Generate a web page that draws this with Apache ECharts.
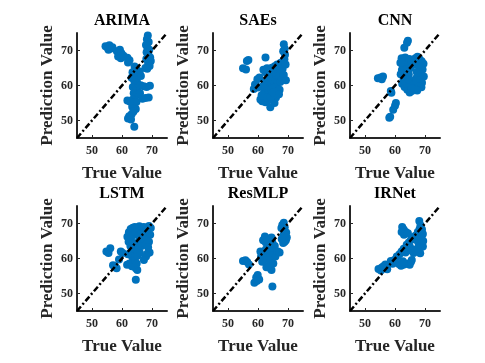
<!DOCTYPE html>
<html>
<head>
<meta charset="utf-8">
<script src="https://cdn.jsdelivr.net/npm/echarts@6/dist/echarts.min.js"></script>
<style>
  html, body { margin: 0; padding: 0; background: #fff; }
  #main { width: 485px; height: 363px; }
</style>
</head>
<body>
<div id="main"></div>
<script>
// model names, in subplot order
var models = ['ARIMA', 'SAEs', 'CNN', 'LSTM', 'ResMLP', 'IRNet'];
var axisMin = 45, axisMax = 75;
var axisTicks = [50, 60, 70];
var refLine = [[45, 45], [75, 75]];

// [true value, prediction value]
var arimaPts = [
  [54.5,71.2],[55.2,70.8],[55.8,71.5],[56.3,70.6],[55.5,70.2],[56.8,70.9],
  [58.3,69.8],[59.3,70.2],[59.8,69.2],[58.7,68.3],[59.6,67.8],[60.5,68.5],
  [61.8,67.9],[62.5,67.2],[62.0,66.6],
  [68.6,74.3],[68.3,73.2],[68.9,72.4],[68.0,71.6],[68.5,70.7],[69.1,70.2],[68.2,69.5],
  [68.8,68.8],[69.4,68.0],[68.1,67.6],[69.6,67.0],[68.7,66.4],[69.2,65.6],[67.8,65.0],[68.4,64.8],
  [64.2,65.4],[64.8,64.6],[63.5,63.8],[64.5,63.0],[65.4,62.8],[63.2,62.2],[64.0,61.5],[65.0,61.0],
  [64.3,60.2],[63.6,59.6],[65.2,59.3],[64.5,58.6],[63.9,57.8],[65.0,57.3],[64.2,56.6],[63.5,55.9],
  [64.8,55.3],[64.0,54.6],[63.4,53.9],[64.6,53.3],[63.8,52.5],[63.2,51.8],[62.4,51.2],[62.0,50.6],
  [63.0,50.3],[64.1,48.2],
  [66.2,60.1],[67.2,59.8],[68.2,59.6],[69.3,59.9],[66.0,57.8],[66.8,56.2],[67.8,56.4],[68.9,56.6],
  [65.9,64.0],[66.3,62.7],[61.8,55.7],[62.6,55.4]
];
var saesPts = [
  [56.8,67.3],[56.3,67.0],[55.0,64.9],[56.0,64.6],[62.5,68.0],[68.6,71.8],
  [61.8,64.5],[62.5,63.8],[63.0,64.9],
  [59.8,61.8],[60.5,62.3],[59.0,60.3],[58.6,59.0],[60.0,59.4],
  [60.8,56.0],[61.4,55.5],[62.5,55.2],[63.4,55.8],[64.1,53.8],[65.5,55.0],[66.0,56.6],[65.0,57.2],
  [62.0,58.0],[62.8,59.3],[63.5,57.5],[63.8,60.8],[64.5,59.0],[64.2,62.0],[65.2,61.3],[65.8,59.7],
  [66.2,58.2],[66.6,60.9],[67.0,62.5],[67.4,61.0],[67.8,63.5],[68.2,64.8],[68.5,66.2],[68.8,67.5],
  [69.0,68.8],[68.4,69.8],[68.9,70.5],[67.6,66.5],[66.8,64.2],[66.0,63.0],[65.0,63.8],[64.6,65.1],
  [63.6,62.5],[62.4,61.0],[61.5,59.8],[61.2,57.2],[63.0,56.5],[64.2,56.7],[67.2,58.8],[68.0,61.6],
  [69.2,66.0],[68.6,63.0],[66.4,66.0],[65.6,65.5],[63.2,61.5],[64.8,58.0],[69.3,61.5],[67.0,57.5]
];
var cnnPts = [
  [64.3,72.8],[64.0,72.2],[63.1,70.8],[54.3,62.1],[55.2,62.3],[56.0,62.6],[55.6,61.8],
  [58.8,57.9],[58.6,58.4],[60.3,55.0],[60.0,54.2],[59.4,53.1],[58.1,50.8],[58.4,51.1],
  [62.2,67.8],[62.8,67.2],[63.4,68.0],[62.5,66.0],[63.2,65.2],[62.3,64.4],[63.6,63.8],[64.4,66.6],
  [64.8,67.6],[64.0,64.6],[62.6,62.9],[63.5,62.0],[64.6,63.2],[65.3,65.0],[65.5,66.8],
  [66.8,67.8],[67.5,68.2],[68.2,67.5],[68.9,66.9],[69.5,66.2],[67.0,66.0],[68.0,65.3],[69.2,64.6],
  [67.3,63.8],[68.5,63.2],[69.6,62.6],[67.0,62.0],[68.2,61.5],[69.0,60.8],[66.8,60.6],[67.6,59.8],
  [68.8,59.5],[66.5,59.0],[67.4,58.6],[66.0,61.3],
  [62.4,60.5],[63.2,59.6],[64.1,58.8],[64.9,58.0],[65.6,58.4],[63.8,60.9],[65.0,60.2],[62.8,61.4],
  [64.4,61.8],[65.6,59.3],[61.8,66.5],[61.9,63.2]
];
var lstmPts = [
  [54.8,62.0],[55.5,61.6],[56.1,62.9],[57.0,58.1],[57.6,57.7],[58.2,57.2],[59.0,59.7],[59.6,62.0],
  [60.2,61.6],[64.6,53.9],[65.1,56.7],[64.6,57.2],[61.7,58.2],[62.5,58.6],[63.3,57.8],[68.5,61.4],
  [68.0,60.6],[67.3,59.6],[69.2,61.7],
  [61.8,66.2],[62.3,67.5],[62.9,68.4],[63.6,68.8],[64.3,69.0],[65.0,68.7],[65.8,69.2],[66.6,68.5],
  [67.3,69.0],[68.2,68.6],[69.0,69.3],[69.6,68.7],[62.2,64.8],[63.0,65.6],[63.8,66.8],[64.6,67.4],
  [65.5,66.5],[66.4,67.1],[67.5,67.3],[68.6,67.6],[69.4,66.8],[62.8,63.6],[63.6,64.2],[64.4,63.5],
  [65.3,64.6],[66.1,65.2],[67.0,65.8],[68.1,65.5],[69.0,64.8],[63.2,62.2],[64.0,61.4],[64.8,62.3],
  [65.6,63.0],[66.5,63.6],[67.8,64.0],[68.7,63.2],[63.4,60.5],[64.3,59.6],[65.2,60.8],[66.0,61.6],
  [64.9,58.6],[62.0,61.2]
];
var resmlpPts = [
  [68.6,70.2],[68.1,69.6],[67.8,68.7],[68.9,68.9],[69.4,67.4],[68.5,66.8],[69.6,66.0],[69.3,65.2],
  [68.4,64.4],[68.9,64.8],[67.9,65.6],
  [62.3,66.3],[62.8,65.8],[61.7,65.2],[62.6,64.6],
  [55.0,59.3],[55.8,59.5],[56.4,59.0],[57.0,58.3],
  [59.9,55.3],[59.4,54.6],[60.4,54.0],[58.8,53.1],[59.6,53.6],
  [64.8,52.0],
  [64.5,56.7],[64.0,57.3],[63.5,58.0],[62.8,57.5],
  [61.4,59.1],[61.0,60.5],[61.8,61.8],[62.6,62.6],[63.3,63.4],[64.0,64.1],[64.8,64.6],[65.6,63.6],
  [63.5,61.5],[64.2,62.2],[65.0,61.0],[65.8,60.6],[66.6,62.0],[67.2,61.7],[63.1,60.0],[64.2,59.4],
  [65.1,58.6],[63.2,65.2],[64.5,66.0],[60.8,62.0]
];
var irnetPts = [
  [54.5,57.0],[55.3,56.6],[56.2,57.8],[56.8,58.3],[55.6,57.4],[57.4,56.9],
  [58.6,59.3],[59.8,59.6],[59.2,58.5],
  [61.3,58.4],[62.0,57.9],[62.8,58.2],[63.5,58.6],[64.3,58.4],[64.9,58.2],[65.3,59.0],[65.6,59.6],[62.6,59.2],
  [60.6,60.6],[61.5,61.2],[62.2,62.0],[62.9,62.8],[63.5,61.7],[64.2,62.5],[65.0,63.3],[65.6,62.2],
  [66.2,61.6],[66.8,62.6],[63.9,63.9],[64.6,64.6],[65.3,65.3],[66.0,66.0],[66.8,66.5],[67.3,65.2],
  [67.9,64.3],[68.6,63.2],[69.3,63.4],[68.4,61.5],[67.6,62.8],
  [62.4,69.0],[62.9,68.3],[63.6,67.6],[62.2,67.6],[63.0,66.8],[64.3,67.2],
  [67.6,67.6],[68.2,68.4],[68.1,70.7],[68.5,69.5],[69.0,68.3],[69.3,67.0],[68.8,66.0],[69.4,65.0],[68.0,65.6]
];
var modelPts = [arimaPts, saesPts, cnnPts, lstmPts, resmlpPts, irnetPts];

(function(){
  var font = '"Liberation Serif", "Times New Roman", serif';
  var ink = '#262626';
  var colLeft = [77, 213, 350];
  var rowTop = [33, 206];
  var gw = 90, gh = 105;

  function makeAxis(i, name, gap, labelMargin){
    return {
      gridIndex: i, type: 'value', min: axisMin, max: axisMax,
      name: name, nameLocation: 'middle', nameGap: gap,
      nameTextStyle: { fontFamily: font, fontWeight: 'bold', fontSize: 17, color: ink },
      axisLine: { onZero: false, lineStyle: { color: ink, width: 2 } },
      axisTick: { inside: true, length: 3, customValues: axisTicks.slice(), lineStyle: { color: ink } },
      axisLabel: {
        customValues: axisTicks.slice(),
        fontFamily: font, fontWeight: 'bold', fontSize: 12, color: ink, margin: labelMargin
      },
      splitLine: { show: false }
    };
  }

  var grids = [], xAxes = [], yAxes = [], series = [], graphics = [];
  for (var i = 0; i < models.length; i++) {
    var gLeft = colLeft[i % 3];
    var gTop = rowTop[Math.floor(i / 3)];
    grids.push({ left: gLeft, top: gTop, width: gw, height: gh });
    xAxes.push(makeAxis(i, 'True Value', 27, 7));
    yAxes.push(makeAxis(i, 'Prediction Value', 21, 4));
    series.push({
      type: 'scatter', xAxisIndex: i, yAxisIndex: i,
      data: modelPts[i], symbolSize: 8,
      itemStyle: { color: '#0072BD', opacity: 1 }, z: 2
    });
    series.push({
      type: 'line', xAxisIndex: i, yAxisIndex: i,
      data: refLine, symbol: 'none', silent: true,
      lineStyle: { color: '#000', width: 2.5, type: [6, 2.5, 2, 2.5] }, z: 3
    });
    graphics.push({
      type: 'text', x: gLeft + gw / 2, y: gTop - 12,
      style: { text: models[i], align: 'center', verticalAlign: 'middle',
        fontFamily: font, fontWeight: 'bold', fontSize: 16, fill: '#000' }
    });
  }

  var myChart = echarts.init(document.getElementById('main'));
  myChart.setOption({
    animation: false,
    backgroundColor: '#fff',
    grid: grids,
    xAxis: xAxes,
    yAxis: yAxes,
    series: series,
    graphic: graphics
  });
})();
</script>
</body>
</html>
